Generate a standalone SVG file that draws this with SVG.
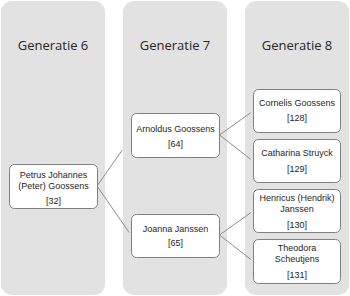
<svg xmlns="http://www.w3.org/2000/svg" width="350" height="296" viewBox="0 0 350 296">
<style>
.col{fill:#e2e2e2;}
.hdr{font-family:"Open Sans","Liberation Sans",sans-serif;font-size:13px;fill:#262626;text-anchor:middle;}
.node rect{fill:#ffffff;stroke:#7f7f7f;stroke-width:1;}
.node text{font-family:"Liberation Sans",Arial,sans-serif;font-size:9px;fill:#262626;text-anchor:middle;}
.conn line{stroke:#8c8c8c;stroke-width:1;}
</style>
<rect width="350" height="296" fill="#ffffff"/>
<g id="columns">
<rect class="col" x="1" y="1" width="104" height="294" rx="11"/>
<rect class="col" x="123" y="1" width="104" height="294" rx="11"/>
<rect class="col" x="245" y="1" width="104" height="294" rx="11"/>
<text class="hdr" x="53" y="50">Generatie 6</text>
<text class="hdr" x="175" y="50">Generatie 7</text>
<text class="hdr" x="297" y="50">Generatie 8</text>
</g>
<g id="connectors" class="conn">
<line x1="97" y1="186" x2="122.3" y2="150"/>
<line x1="97" y1="186" x2="129.3" y2="232.7"/>
<line x1="219.5" y1="135" x2="250.7" y2="112.7"/>
<line x1="219.5" y1="135" x2="250.7" y2="159.3"/>
<line x1="219.5" y1="235" x2="250.7" y2="212.7"/>
<line x1="219.5" y1="235" x2="250.7" y2="259.3"/>
</g>
<g id="n32" class="node">
<rect x="9.5" y="164.5" width="88" height="44" rx="5"/>
<text x="53.5" y="177.5">Petrus Johannes</text>
<text x="53.5" y="188.8">(Peter) Goossens</text>
<text x="53.5" y="204">[32]</text>
</g>
<g id="n64" class="node">
<rect x="131.5" y="113.5" width="88" height="44" rx="5"/>
<text x="175.5" y="132">Arnoldus Goossens</text>
<text x="175.5" y="147">[64]</text>
</g>
<g id="n65" class="node">
<rect x="131.5" y="214.5" width="88" height="43" rx="5"/>
<text x="175.5" y="232">Joanna Janssen</text>
<text x="175.5" y="246">[65]</text>
</g>
<g id="n128" class="node">
<rect x="253.5" y="89.5" width="87" height="43" rx="5"/>
<text x="297" y="105.5">Cornelis Goossens</text>
<text x="297" y="121">[128]</text>
</g>
<g id="n129" class="node">
<rect x="253.5" y="139.5" width="87" height="43" rx="5"/>
<text x="297" y="156">Catharina Struyck</text>
<text x="297" y="171.5">[129]</text>
</g>
<g id="n130" class="node">
<rect x="253.5" y="189.5" width="87" height="43" rx="5"/>
<text x="297" y="201">Henricus (Hendrik)</text>
<text x="297" y="212.3">Janssen</text>
<text x="297" y="227.5">[130]</text>
</g>
<g id="n131" class="node">
<rect x="253.5" y="239.5" width="87" height="44" rx="5"/>
<text x="297" y="250.5">Theodora</text>
<text x="297" y="261.8">Scheutjens</text>
<text x="297" y="277.5">[131]</text>
</g>
</svg>
